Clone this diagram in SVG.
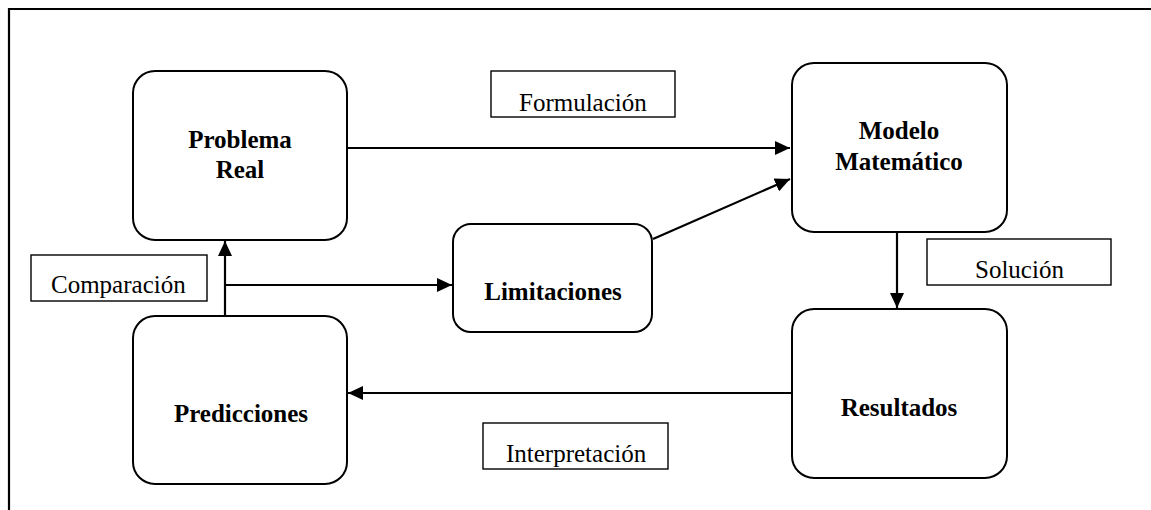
<svg xmlns="http://www.w3.org/2000/svg" width="1151" height="510" viewBox="0 0 1151 510">
<style>
.node{fill:#fff;stroke:#000;stroke-width:2}
.lbl{fill:#fff;stroke:#000;stroke-width:1.4}
.bt{font-family:"Liberation Serif","Times New Roman",serif;font-weight:bold;font-size:25px;text-anchor:middle;fill:#000}
.nt{font-family:"Liberation Serif","Times New Roman",serif;font-size:25px;fill:#000}
.con{fill:none;stroke:#000;stroke-width:2.2}
</style>
<defs>
<marker id="ah" markerUnits="userSpaceOnUse" markerWidth="16" markerHeight="14" refX="15" refY="7" orient="auto">
<path d="M0,0 L15,7 L0,14 z" fill="#000"/>
</marker>
</defs>
<rect width="1151" height="510" fill="#fff"/>
<path d="M9,510 L9,9 L1151,9" fill="none" stroke="#000" stroke-width="2.2"/>
<g id="connectors">
<line class="con" x1="347" y1="148" x2="790" y2="148" marker-end="url(#ah)"/>
<line class="con" x1="653" y1="239" x2="790" y2="179" marker-end="url(#ah)"/>
<line class="con" x1="897" y1="232" x2="897" y2="308" marker-end="url(#ah)"/>
<line class="con" x1="791" y1="393" x2="348" y2="393" marker-end="url(#ah)"/>
<line class="con" x1="225" y1="316" x2="225" y2="241" marker-end="url(#ah)"/>
<line class="con" x1="225" y1="285" x2="452" y2="285" marker-end="url(#ah)"/>
</g>
<g id="problema-real">
<rect class="node" x="133" y="71" width="214" height="169" rx="22"/>
<text class="bt" x="240" y="148">Problema</text>
<text class="bt" x="240" y="178">Real</text>
</g>
<g id="modelo-matematico">
<rect class="node" x="792" y="63" width="215" height="169" rx="22"/>
<text class="bt" x="899" y="139">Modelo</text>
<text class="bt" x="899" y="170">Matemático</text>
</g>
<g id="limitaciones">
<rect class="node" x="453" y="224" width="199" height="108" rx="18"/>
<text class="bt" x="553" y="300">Limitaciones</text>
</g>
<g id="predicciones">
<rect class="node" x="133" y="316" width="214" height="168" rx="22"/>
<text class="bt" x="241" y="422">Predicciones</text>
</g>
<g id="resultados">
<rect class="node" x="792" y="309" width="215" height="169" rx="22"/>
<text class="bt" x="899" y="416">Resultados</text>
</g>
<g id="formulacion">
<rect class="lbl" x="491" y="71" width="184" height="46"/>
<text class="nt" x="519" y="111">Formulación</text>
</g>
<g id="comparacion">
<rect class="lbl" x="31" y="255" width="176" height="46"/>
<text class="nt" x="51" y="293">Comparación</text>
</g>
<g id="solucion">
<rect class="lbl" x="927" y="239" width="184" height="46"/>
<text class="nt" x="975" y="278">Solución</text>
</g>
<g id="interpretacion">
<rect class="lbl" x="483" y="423" width="185" height="46"/>
<text class="nt" x="506" y="462">Interpretación</text>
</g>
</svg>
